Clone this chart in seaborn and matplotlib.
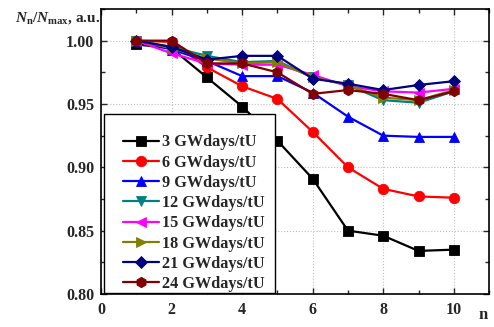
import numpy as np
import pandas as pd
import matplotlib
matplotlib.use("Agg")
import matplotlib.pyplot as plt
import seaborn as sns
from matplotlib.ticker import MultipleLocator
from matplotlib.patches import Rectangle

n = [1, 2, 3, 4, 5, 6, 7, 8, 9, 10]
labels = ["3 GWdays/tU", "6 GWdays/tU", "9 GWdays/tU", "12 GWdays/tU",
          "15 GWdays/tU", "18 GWdays/tU", "21 GWdays/tU", "24 GWdays/tU"]
s3 = [0.997, 0.994, 0.971, 0.948, 0.921, 0.891, 0.850, 0.846, 0.834, 0.835]
s6 = [1.000, 0.999, 0.979, 0.964, 0.954, 0.928, 0.900, 0.883, 0.877, 0.876]
s9 = [1.000, 0.993, 0.984, 0.972, 0.972, 0.959, 0.940, 0.925, 0.924, 0.924]
s12 = [1.000, 0.995, 0.988, 0.983, 0.984, 0.971, 0.965, 0.953, 0.951, 0.960]
s15 = [1.000, 0.990, 0.982, 0.981, 0.981, 0.973, 0.964, 0.960, 0.959, 0.962]
s18 = [1.000, 0.994, 0.986, 0.982, 0.983, 0.971, 0.965, 0.955, 0.953, 0.961]
s21 = [1.000, 0.995, 0.985, 0.988, 0.988, 0.970, 0.966, 0.961, 0.965, 0.968]
s24 = [1.000, 1.000, 0.982, 0.982, 0.975, 0.958, 0.961, 0.958, 0.953, 0.960]
series = [s3, s6, s9, s12, s15, s18, s21, s24]

colors = ["#000000", "#FF0000", "#0000FF", "#008080", "#FF00FF", "#808000", "#000080", "#800000"]
markers = ["s", "o", "^", "v", "<", ">", "D", "h"]
msizes = [6.5, 7.5, 7.5, 7.5, 7.5, 7.5, 6, 7.5]

rows = []
for lab, vals in zip(labels, series):
    for xi, v in zip(n, vals):
        rows.append({"n": xi, "v": v, "series": lab})
df = pd.DataFrame(rows)

sns.set_style("ticks")
plt.rcParams["font.family"] = ["Liberation Serif", "DejaVu Serif"]
plt.rcParams["font.weight"] = "bold"
plt.rcParams["mathtext.fontset"] = "custom"
plt.rcParams["mathtext.rm"] = "Liberation Serif:bold"
plt.rcParams["mathtext.it"] = "Liberation Serif:bold:italic"
plt.rcParams["mathtext.bf"] = "Liberation Serif:bold"

fig = plt.figure(figsize=(4.94, 3.27), dpi=100)
ax = fig.add_axes([0.2045, 0.101, 0.7855, 0.8715])

sns.lineplot(data=df, x="n", y="v", hue="series", style="series",
             hue_order=labels, style_order=labels, palette=colors,
             markers=markers, dashes=False, markersize=7, linewidth=1.6,
             markeredgewidth=0.6, ax=ax, legend=False)

lines = ax.get_lines()[:8]
for line, c, ms in zip(lines, colors, msizes):
    line.set_markeredgecolor(c)
    line.set_markersize(ms)

ax.set_xlim(0, 11)
ax.set_ylim(0.80, 1.025)
ax.xaxis.set_major_locator(MultipleLocator(2))
ax.xaxis.set_minor_locator(MultipleLocator(1))
ax.yaxis.set_major_locator(MultipleLocator(0.05))
ax.yaxis.set_minor_locator(MultipleLocator(0.025))
ax.yaxis.set_major_formatter(matplotlib.ticker.FormatStrFormatter("%.2f"))
ax.tick_params(which="both", direction="in", top=True, right=True,
               labelsize=11.5, width=1.0)
ax.tick_params(which="major", length=4)
ax.tick_params(which="minor", length=3)
ax.tick_params(axis="x", which="major", pad=6)
ax.tick_params(axis="y", which="major", pad=5)
for lab in ax.get_xticklabels() + ax.get_yticklabels():
    lab.set_fontweight("bold")
ax.grid(True, which="major", linestyle=":", color="#c0c0c0", linewidth=0.8)
for sp in ax.spines.values():
    sp.set_linewidth(1.2)
    sp.set_color("black")
ax.set_xlabel("")
ax.set_ylabel("")

# legend frame box
ax.add_patch(Rectangle((0.0077, 0.0035), 0.4405, 0.6285, transform=ax.transAxes,
                       facecolor="white", edgecolor="black", linewidth=1.0,
                       zorder=4))
leg = ax.legend(lines, labels, loc="upper left", bbox_to_anchor=(0.0567, 0.560),
                frameon=False,
                prop={"family": "Liberation Serif", "weight": "bold", "size": 11.7},
                handlelength=2.2, handletextpad=0.2, labelspacing=0.26,
                borderpad=0, borderaxespad=0)
leg.set_zorder(5)

fig.text(0.03, 0.945, r"$N_{\mathrm{n}}/N_{\mathrm{max}}$, a.u.", fontsize=11,
         fontweight="bold", ha="left", va="center")
fig.text(0.977, 0.037, "n", fontsize=12, fontweight="bold", ha="center", va="center")

fig.savefig("out.png", dpi=100)
